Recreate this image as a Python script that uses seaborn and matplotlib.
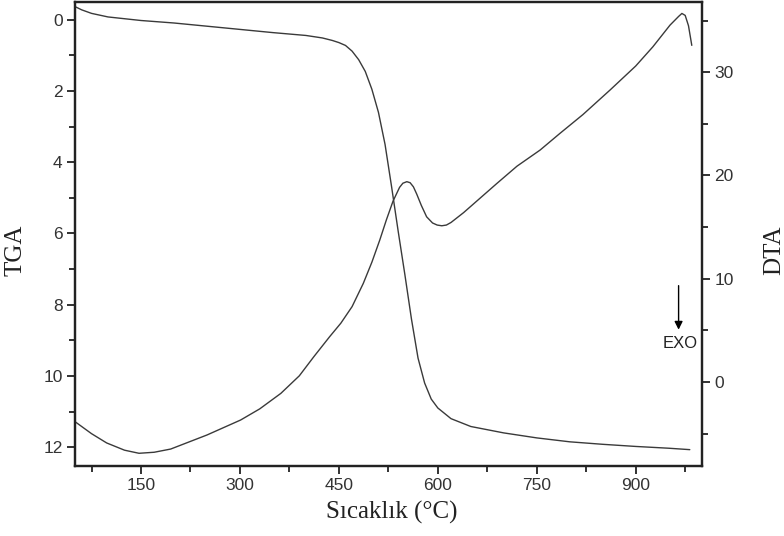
import matplotlib
matplotlib.use("Agg")
import matplotlib.pyplot as plt
from matplotlib.ticker import MultipleLocator
import seaborn as sns
import pandas as pd

# TGA / DTA curves

tga_temp = [50, 60, 75, 100, 150, 200, 250, 300, 350, 400, 425, 440, 450, 460, 470,
            480, 490, 500, 510, 520, 530, 540, 550, 560, 570, 580, 590, 600, 620,
            650, 700, 750, 800, 850, 900, 950, 982]
tga_val = [-0.37, -0.28, -0.18, -0.08, 0.02, 0.09, 0.18, 0.27, 0.36, 0.44, 0.51, 0.58,
           0.64, 0.72, 0.88, 1.12, 1.45, 1.95, 2.6, 3.5, 4.7, 5.95, 7.15, 8.4, 9.5,
           10.2, 10.65, 10.9, 11.2, 11.42, 11.6, 11.74, 11.85, 11.92, 11.98, 12.03, 12.07]

dta_temp = [50, 75, 98, 125, 147, 170, 195, 250, 301, 330, 362, 390, 412, 436, 453,
            470, 487, 500, 512, 522, 532, 542, 547, 553, 558, 563, 568, 575, 583, 592,
            599, 606, 613, 620, 639, 664, 689, 720, 755, 785, 820, 861, 900, 926, 952,
            965, 970, 975, 980, 985]
dta_val = [-3.84, -5.0, -5.9, -6.6, -6.9, -6.8, -6.49, -5.13, -3.68, -2.6, -1.1, 0.6,
           2.45, 4.39, 5.7, 7.3, 9.55, 11.6, 13.75, 15.7, 17.5, 18.85, 19.25, 19.4,
           19.3, 18.9, 18.2, 17.1, 16.0, 15.4, 15.2, 15.13, 15.2, 15.45, 16.4, 17.8,
           19.2, 20.9, 22.46, 24.07, 25.9, 28.27, 30.6, 32.46, 34.56, 35.4, 35.69, 35.5,
           34.5, 32.6]

tga = pd.DataFrame({"temp": tga_temp, "tga": tga_val})
dta = pd.DataFrame({"temp": dta_temp, "dta": dta_val})

sns.set_style("ticks")
plt.rcParams["font.family"] = ["Liberation Sans", "DejaVu Sans"]

line_col = "#3a3a3a"
fig = plt.figure(figsize=(7.84, 5.36), dpi=100)
ax = fig.add_axes([0.0957, 0.1312, 0.7993, 0.8651])
ax2 = ax.twinx()

sns.lineplot(data=tga, x="temp", y="tga", ax=ax, color=line_col, lw=1.0)
sns.lineplot(data=dta, x="temp", y="dta", ax=ax2, color=line_col, lw=1.0)

ax.set_xlim(50, 1000)
ax.set_ylim(12.52, -0.5)
ax2.set_ylim(-8.1, 36.8)

ax.xaxis.set_major_locator(MultipleLocator(150))
ax.xaxis.set_minor_locator(MultipleLocator(75))
ax.yaxis.set_major_locator(MultipleLocator(2))
ax.yaxis.set_minor_locator(MultipleLocator(1))
ax2.yaxis.set_major_locator(MultipleLocator(10))
ax2.yaxis.set_minor_locator(MultipleLocator(5))

for a in (ax, ax2):
    for s in a.spines.values():
        s.set_linewidth(1.6)
        s.set_color("#222222")
    a.tick_params(which="major", length=6, width=1.3, direction="out",
                  labelsize=12.5, pad=3, colors="#222222", labelcolor="#333333")
    a.tick_params(which="minor", length=4, width=1.3, direction="out", colors="#222222")

serif = dict(family="Liberation Serif", fontsize=18, color="#222222")
ax.set_xlabel("Sıcaklık (°C)", **serif)
ax.xaxis.set_label_coords(0.506, -0.075)
ax.set_ylabel("")
ax2.set_ylabel("")
fig.text(16 / 784, 1 - 250 / 536, "TGA", rotation=90, ha="center", va="center", **serif)
fig.text(774 / 784, 1 - 250 / 536, "DTA", rotation=90, ha="center", va="center", **serif)

# EXO arrow
ax2.annotate("", xy=(965, 4.8), xytext=(965, 9.6),
             arrowprops=dict(arrowstyle="-|>", color="black", lw=1.0, mutation_scale=12))
ax2.text(968, 3.7, "EXO", ha="center", va="center", fontsize=12, color="#222222")

fig.savefig("out.png", dpi=100)
